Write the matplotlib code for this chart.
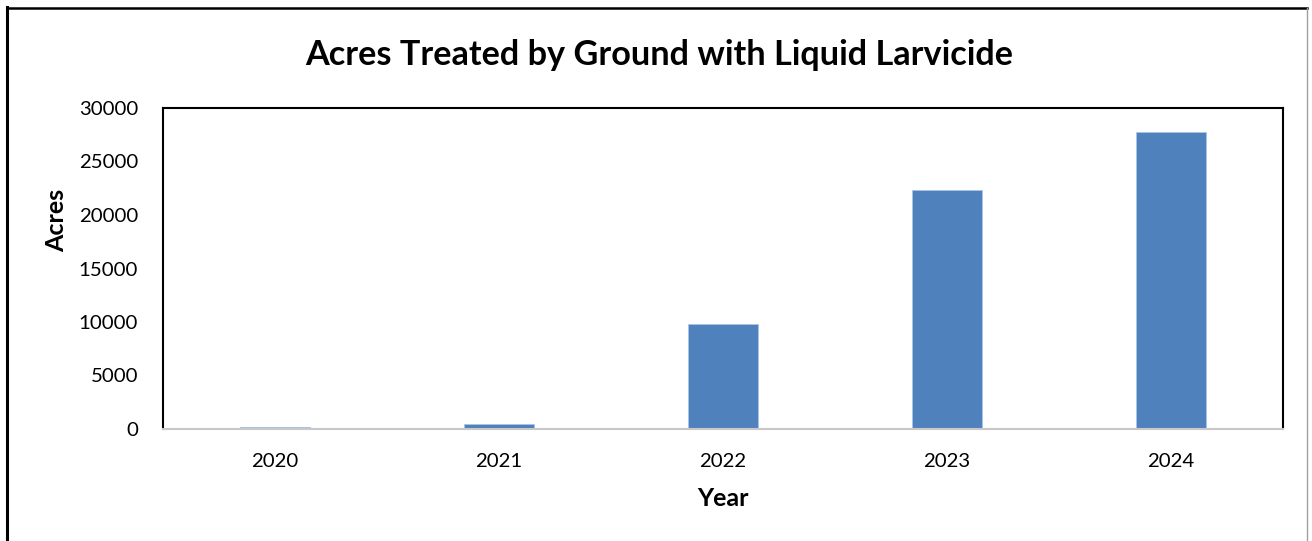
import matplotlib.pyplot as plt
from matplotlib.lines import Line2D

# Data
years = ["2020", "2021", "2022", "2023", "2024"]
acres = [150, 450, 9800, 22300, 27800]

W, H = 1312, 541
fig = plt.figure(figsize=(W / 100, H / 100), dpi=100)
plt.rcParams['font.family'] = ['Lato', 'DejaVu Sans']

# Plot area (pixel positions from the reference)
left, right, top, bottom = 163, 1283, 108, 429
ax = fig.add_axes([left / W, 1 - bottom / H, (right - left) / W, (bottom - top) / H])

x = range(len(years))
ax.bar(x, acres, width=0.31, color="#4f81bd", edgecolor="#a9c4e8", linewidth=0.6)

ax.set_xlim(-0.5, len(years) - 0.5)
ax.set_ylim(0, 30000)
ax.set_yticks(range(0, 30001, 5000))
ax.set_xticks(list(x))
ax.set_xticklabels(years)
ax.tick_params(axis="both", length=0, labelsize=14.7, colors="black")
ax.tick_params(axis="x", pad=17)
ax.tick_params(axis="y", pad=18)

for side in ["top", "left", "right"]:
    ax.spines[side].set_color("black")
    ax.spines[side].set_linewidth(1.5)
ax.spines["bottom"].set_color("#c8c8c8")
ax.spines["bottom"].set_linewidth(1.5)

ax.set_xlabel("Year", fontsize=18, fontweight="bold")
ax.set_ylabel("Acres", fontsize=18, fontweight="bold")
ax.yaxis.set_label_coords(-0.085, 0.65)
ax.xaxis.set_label_coords(0.5, -0.182)

fig.text(0.5025, 1 - 55 / H, "Acres Treated by Ground with Liquid Larvicide",
         ha="center", va="center", fontsize=24.7, fontweight="bold")

# Outer chart border (left and top heavy, right light)
fig.add_artist(Line2D([6.5 / W, 6.5 / W], [0, 1 - 7 / H], transform=fig.transFigure,
                      color="black", linewidth=2.2))
fig.add_artist(Line2D([6.5 / W, 1307 / W], [1 - 7.5 / H, 1 - 7.5 / H], transform=fig.transFigure,
                      color="black", linewidth=1.8))
fig.add_artist(Line2D([1307 / W, 1307 / W], [0, 1 - 7.5 / H], transform=fig.transFigure,
                      color="#a0a0a0", linewidth=1.0))

fig.savefig("out.png", dpi=100, facecolor="white")
